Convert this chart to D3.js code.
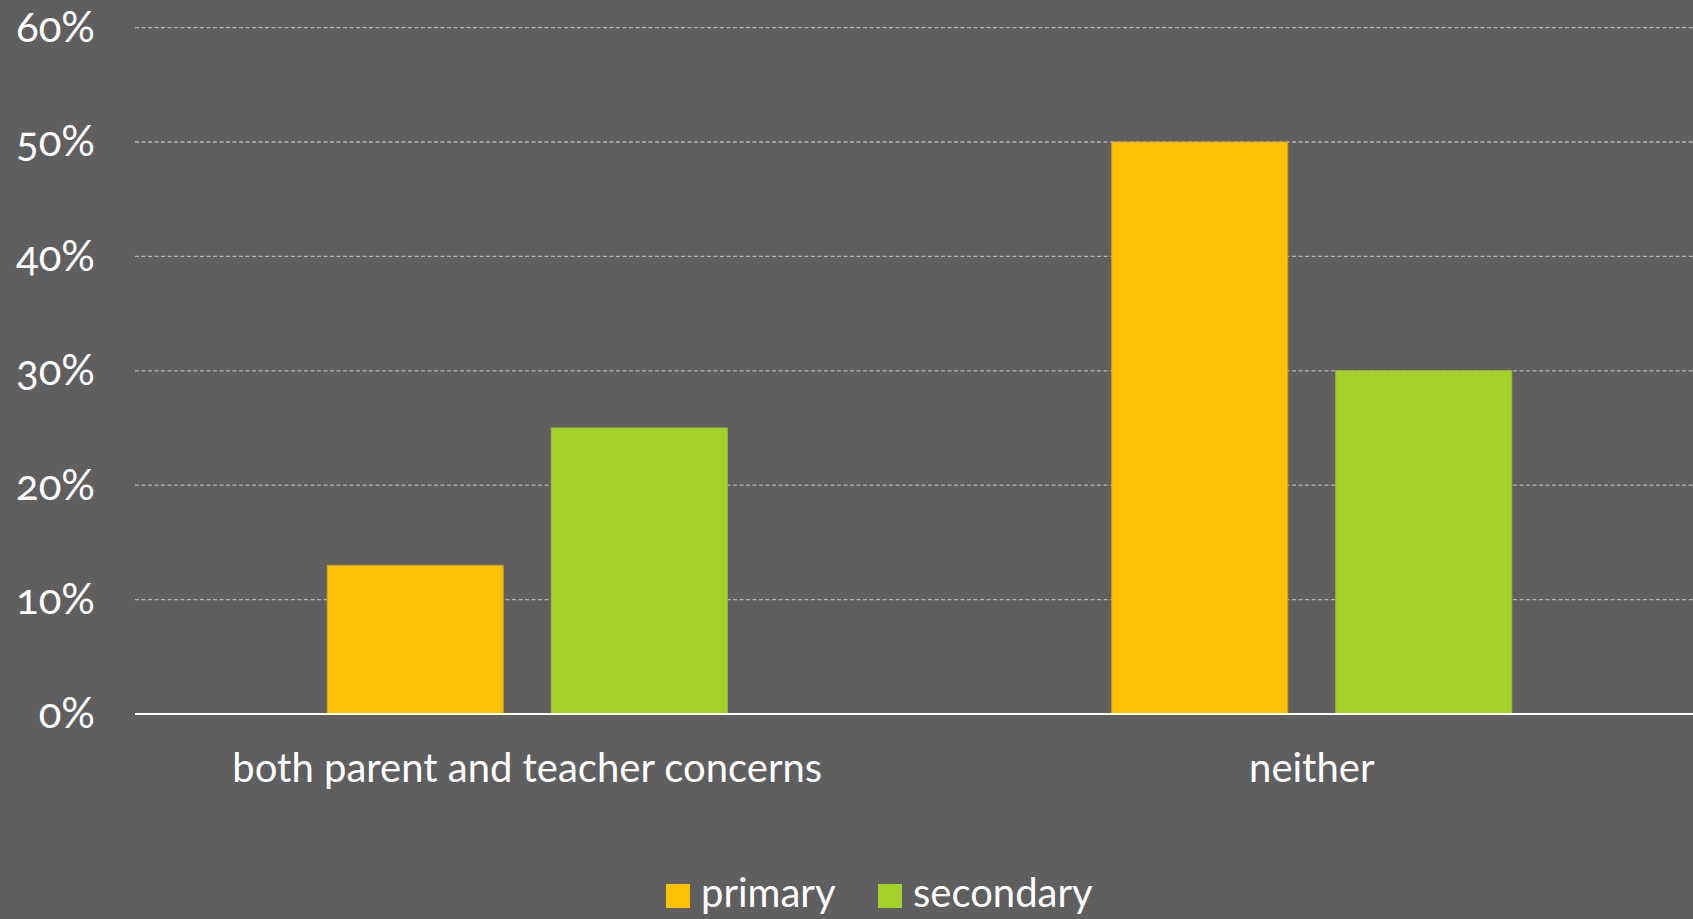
<!DOCTYPE html>
<html>
<head>
<meta charset="utf-8">
<script src="https://cdn.jsdelivr.net/npm/d3@7/dist/d3.min.js"></script>
<style>
  html, body { margin: 0; padding: 0; background: #5f5f5f; overflow: hidden; }
  svg { display: block; }
  text { font-family: Lato, "Open Sans", sans-serif; fill: #ffffff; font-variant-numeric: oldstyle-nums; }
</style>
</head>
<body>
<svg id="chart" width="1693" height="919"></svg>
<script>
const categories = ["both parent and teacher concerns", "neither"];
const seriesNames = ["primary", "secondary"];
const primaryValues = [0.13, 0.50];
const secondaryValues = [0.25, 0.30];
const yTicks = [0, 0.1, 0.2, 0.3, 0.4, 0.5, 0.6];
const seriesColors = ["#FFC000", "#A6D12A"];
const seriesStrokes = ["#C9A227", "#9CBF2E"];

const W = 1693, H = 919;
const margin = { left: 135 };
const plotRight = 1704;
const svg = d3.select("#chart");
svg.append("rect").attr("width", W).attr("height", H).attr("fill", "#5f5f5f");

const y = d3.scaleLinear().domain([0, 0.6]).range([714, 27.6]);
const x0 = d3.scaleBand().domain(categories).range([margin.left, plotRight]).paddingInner(0).paddingOuter(0);
const bw = x0.bandwidth();
const x1 = d3.scaleBand().domain(seriesNames).range([bw * 0.245, bw * 0.755]).paddingInner(0.2143).paddingOuter(0);

// gridlines
const grid = svg.append("g");
grid.selectAll("line").data(yTicks.filter(d => d > 0)).enter().append("line")
  .attr("x1", margin.left).attr("x2", W)
  .attr("y1", d => y(d)).attr("y2", d => y(d))
  .attr("stroke", "#b4b4b4").attr("stroke-width", 1.3).attr("stroke-dasharray", "4,2.5");

// y axis labels
const yAxis = d3.axisLeft(y).tickValues(yTicks).tickFormat(d3.format(".0%")).tickSize(0).tickPadding(0);
const yg = svg.append("g").attr("transform", `translate(95,0)`).call(yAxis);
yg.select(".domain").remove();
yg.selectAll("text").attr("font-size", 42).attr("fill", "#ffffff")
  .attr("font-family", "Lato, 'Open Sans', sans-serif").attr("dy", "0.33em");

// bars
const data = categories.map((c, i) => ({ cat: c, vals: [primaryValues[i], secondaryValues[i]] }));
const groups = svg.append("g").selectAll("g").data(data).enter().append("g")
  .attr("transform", d => `translate(${x0(d.cat)},0)`);
groups.selectAll("rect").data(d => d.vals.map((v, j) => ({ s: seriesNames[j], v, j }))).enter().append("rect")
  .attr("x", d => x1(d.s)).attr("width", x1.bandwidth())
  .attr("y", d => y(d.v)).attr("height", d => y(0) - y(d.v))
  .attr("fill", d => seriesColors[d.j])
  .attr("stroke", d => seriesStrokes[d.j]).attr("stroke-width", 1);

// baseline
svg.append("line").attr("x1", margin.left).attr("x2", W).attr("y1", y(0)).attr("y2", y(0))
  .attr("stroke", "#ffffff").attr("stroke-width", 2);

// category labels
const xAxis = d3.axisBottom(x0).tickSize(0).tickPadding(0);
const xg = svg.append("g").attr("transform", `translate(0,782)`).call(xAxis);
xg.select(".domain").remove();
xg.selectAll("text").attr("font-size", 40).attr("fill", "#ffffff")
  .attr("font-family", "Lato, 'Open Sans', sans-serif").attr("dy", 0).attr("y", 0);

// legend
const legendX = [666, 878];
const legend = svg.append("g");
seriesNames.forEach((s, i) => {
  legend.append("rect").attr("x", legendX[i]).attr("y", 884).attr("width", 24).attr("height", 24)
    .attr("fill", seriesColors[i]);
  legend.append("text").attr("x", legendX[i] + 35).attr("y", 907).attr("font-size", 40).text(s);
});
</script>
</body>
</html>
